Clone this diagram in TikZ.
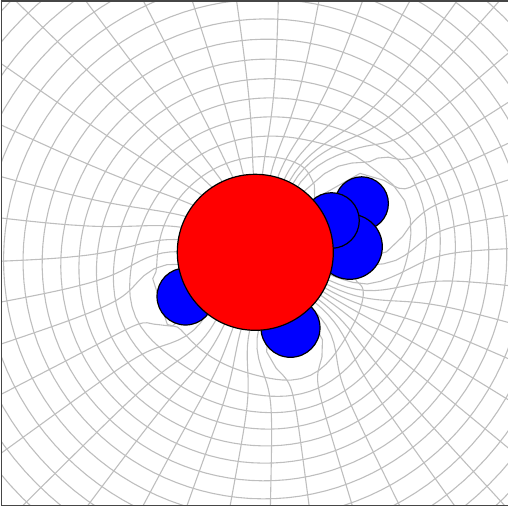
\documentclass[tikz,border=0pt]{standalone}
\usepackage{tikz}
\definecolor{gridgray}{RGB}{190,190,190}
\definecolor{framegray}{RGB}{70,70,70}
\tikzset{
  gridline/.style={draw=gridgray, line width=0.55pt, line join=round},
  atomblue/.style={fill={rgb,1:red,0;green,0;blue,1}, draw=black, line width=0.6pt},
  atomred/.style={fill={rgb,1:red,1;green,0;blue,0}, draw=black, line width=0.6pt},
  frameline/.style={draw=framegray, line width=0.75pt}
}
\newcommand\pushatom[4]{%
  \pgfmathsetmacro\mpD{veclen(\mX-#1,\mY-#2)+0.0001}%
  \pgfmathsetmacro\mpF{#3*exp(-min(\mpD/#4,9))/\mpD}%
  \pgfmathsetmacro\accX{\accX+(\mX-#1)*\mpF}%
  \pgfmathsetmacro\accY{\accY+(\mY-#2)*\mpF}%
}
\newcommand\mapxy[2]{%
  \pgfmathsetmacro\mX{#1}\pgfmathsetmacro\mY{#2}%
  \let\accX\mX \let\accY\mY
  \pushatom{2.553}{2.523}{0.10}{1.0}%
  \pushatom{1.855}{2.965}{0.24}{0.95}%
  \pushatom{2.905}{3.278}{0.24}{0.95}%
  \pushatom{3.470}{2.250}{0.40}{0.90}%
  \pushatom{3.497}{2.467}{0.07}{0.40}%
  \pushatom{3.617}{2.035}{0.07}{0.40}%
  \pushatom{3.315}{2.205}{0.06}{0.40}%
}
\begin{document}
\begin{tikzpicture}[x=50pt,y=-50pt]
\useasboundingbox (0,0) rectangle (5.08,5.09);
\begin{scope}
\clip (0.015,0.01) rectangle (5.08,5.055);
% concentric contours
\foreach \k in {4,...,18}{
  \pgfmathsetmacro\rr{0.21*\k+0.01}
  \pgfmathsetmacro\cy{2.575+0.009*max(0,11-\k)}
  \foreach \j in {0,...,119}{
    \mapxy{2.63+\rr*cos(3*\j)}{\cy-\rr*sin(3*\j)}
    \coordinate (c\k-\j) at (\accX,\accY);
  }
  \draw[gridline] (c\k-0) \foreach \j in {1,...,119}{ -- (c\k-\j)} -- cycle;
}
% radial lines
\foreach \a [count=\n] in {135.6,126.7,117.4,108.0,98.5,89.1,80.0,70.8,61.9,54.3,48.5,40.8,33.1,25.5,17.8,9.7,1.7,-7.3,-16.0,-23.9,-31.8,-39.6,-47.5,-54.4,-63.6,-72.9,-82.3,-91.1,-100.2,-109.4,-117.8,-126.8,-135.2,-144.1,-153.0,-161.9,-170.1,-178.5,172.5,164.2,154.7,145.1}{
  \foreach \ss [count=\j] in {0.3,0.35,...,1.8,1.95,2.1,...,4.05}{
    \mapxy{2.75+\ss*cos(\a)}{2.55-\ss*sin(\a)}
    \coordinate (r\n-\j) at (\accX,\accY);
    \xdef\lastj{\j}
  }
  \draw[gridline] (r\n-1) \foreach \j in {2,...,\lastj}{ -- (r\n-\j)};
}
\end{scope}
% atoms
\draw[atomblue] (1.855,2.965) circle[radius=0.285];
\draw[atomblue] (2.905,3.278) circle[radius=0.295];
\draw[atomblue] (3.617,2.035) circle[radius=0.267];
\draw[atomblue] (3.497,2.467) circle[radius=0.326];
\draw[atomblue] (3.315,2.205) circle[radius=0.278];
\draw[atomred] (2.553,2.523) circle[radius=0.78];
% frame
\coordinate (tl) at (0.015,0.01);
\coordinate (tr) at (5.08,0.01);
\coordinate (bl) at (0.015,5.055);
\coordinate (br) at (5.08,5.055);
\draw[frameline] (tr) -- (tl) -- (bl) -- (br);
\end{tikzpicture}
\end{document}
